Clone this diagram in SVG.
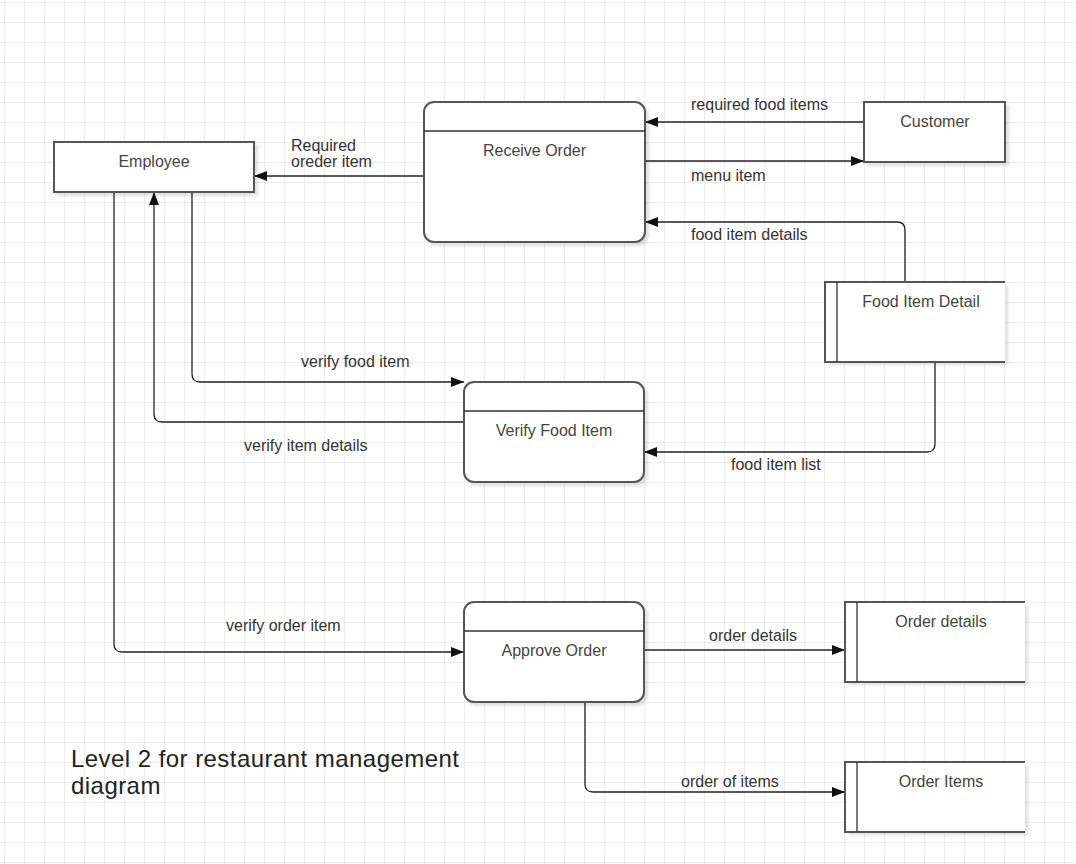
<svg xmlns="http://www.w3.org/2000/svg" width="1076" height="864" viewBox="0 0 1076 864">
<defs>
<pattern id="grid" x="4" y="2" width="20" height="20" patternUnits="userSpaceOnUse">
<path d="M0,0 H20 M0,0 V20" fill="none" stroke="#e8e8e8" stroke-width="1.5"/>
</pattern>
<filter id="sh" x="-10%" y="-10%" width="130%" height="130%">
<feDropShadow dx="3" dy="3" stdDeviation="1.5" flood-color="#000" flood-opacity="0.12"/>
</filter>
<marker id="arr" markerUnits="userSpaceOnUse" markerWidth="13" markerHeight="10" refX="13" refY="5" orient="auto">
<path d="M0,0 L13,5 L0,10 z" fill="#111"/>
</marker>
<style>
.box{fill:#fff;stroke:#555;stroke-width:2}
.fill{fill:#fff;stroke:none}
.edge{fill:none;stroke:#222;stroke-width:1.3;marker-end:url(#arr)}
.div{stroke:#333;stroke-width:1.3;fill:none}
.open{fill:none;stroke:#555;stroke-width:2}
.nt{font-family:"Liberation Sans",Arial,sans-serif;font-size:16px;fill:#444;text-anchor:middle}
.lb{font-family:"Liberation Sans",Arial,sans-serif;font-size:16px;fill:#333}
.title{font-family:"Liberation Sans",Arial,sans-serif;font-size:24px;letter-spacing:0.45px;fill:#222}
</style>
</defs>
<rect width="1076" height="864" fill="#fff"/>
<rect width="1076" height="864" fill="url(#grid)"/>

<g id="connectors">
<path class="edge" d="M864,122 H645"/>
<path class="edge" d="M645,161 H864"/>
<path class="edge" d="M905,282 V230 Q905,222 897,222 H645"/>
<path class="edge" d="M935,362 V444 Q935,452 927,452 H644"/>
<path class="edge" d="M424,176 H254"/>
<path class="edge" d="M192,192 V374 Q192,382 200,382 H464"/>
<path class="edge" d="M464,422 H162 Q154,422 154,414 V192"/>
<path class="edge" d="M114,192 V644 Q114,652 122,652 H464"/>
<path class="edge" d="M644,650 H845"/>
<path class="edge" d="M585,702 V784 Q585,792 593,792 H845"/>
</g>

<g id="labels">
<text class="lb" x="691" y="110">required food items</text>
<text class="lb" x="691" y="181">menu item</text>
<text class="lb" x="691" y="240">food item details</text>
<text class="lb" x="291" y="151">Required</text>
<text class="lb" x="291" y="167">oreder item</text>
<text class="lb" x="301" y="367">verify food item</text>
<text class="lb" x="244" y="451">verify item details</text>
<text class="lb" x="731" y="470">food item list</text>
<text class="lb" x="226" y="631">verify order item</text>
<text class="lb" x="709" y="641">order details</text>
<text class="lb" x="681" y="787">order of items</text>
</g>

<g id="employee">
<rect class="box" x="54" y="142" width="200" height="50" filter="url(#sh)"/>
<text class="nt" x="154" y="167">Employee</text>
</g>

<g id="receive-order">
<rect class="box" x="424" y="102" width="221" height="140" rx="10" filter="url(#sh)"/>
<line class="div" x1="424" y1="131" x2="645" y2="131"/>
<text class="nt" x="534.5" y="156">Receive Order</text>
</g>

<g id="customer">
<rect class="box" x="864" y="102" width="141" height="60" filter="url(#sh)"/>
<text class="nt" x="935" y="127">Customer</text>
</g>

<g id="food-item-detail">
<rect class="fill" x="825" y="282" width="180" height="80" filter="url(#sh)"/>
<path class="open" d="M1005,282 H825 V362 H1005"/>
<line class="div" x1="837" y1="282" x2="837" y2="362" stroke-width="1.6"/>
<text class="nt" x="921" y="307">Food Item Detail</text>
</g>

<g id="verify-food-item">
<rect class="box" x="464" y="382" width="180" height="100" rx="10" filter="url(#sh)"/>
<line class="div" x1="464" y1="411" x2="644" y2="411"/>
<text class="nt" x="554" y="436">Verify Food Item</text>
</g>

<g id="approve-order">
<rect class="box" x="464" y="602" width="180" height="100" rx="10" filter="url(#sh)"/>
<line class="div" x1="464" y1="631" x2="644" y2="631"/>
<text class="nt" x="554" y="656">Approve Order</text>
</g>

<g id="order-details">
<rect class="fill" x="845" y="602" width="180" height="80" filter="url(#sh)"/>
<path class="open" d="M1025,602 H845 V682 H1025"/>
<line class="div" x1="857" y1="602" x2="857" y2="682" stroke-width="1.6"/>
<text class="nt" x="941" y="627">Order details</text>
</g>

<g id="order-items">
<rect class="fill" x="845" y="762" width="180" height="70" filter="url(#sh)"/>
<path class="open" d="M1025,762 H845 V832 H1025"/>
<line class="div" x1="857" y1="762" x2="857" y2="832" stroke-width="1.6"/>
<text class="nt" x="941" y="787">Order Items</text>
</g>

<g id="title">
<text class="title" x="71" y="767">Level 2 for restaurant management</text>
<text class="title" x="71" y="794">diagram</text>
</g>
</svg>
